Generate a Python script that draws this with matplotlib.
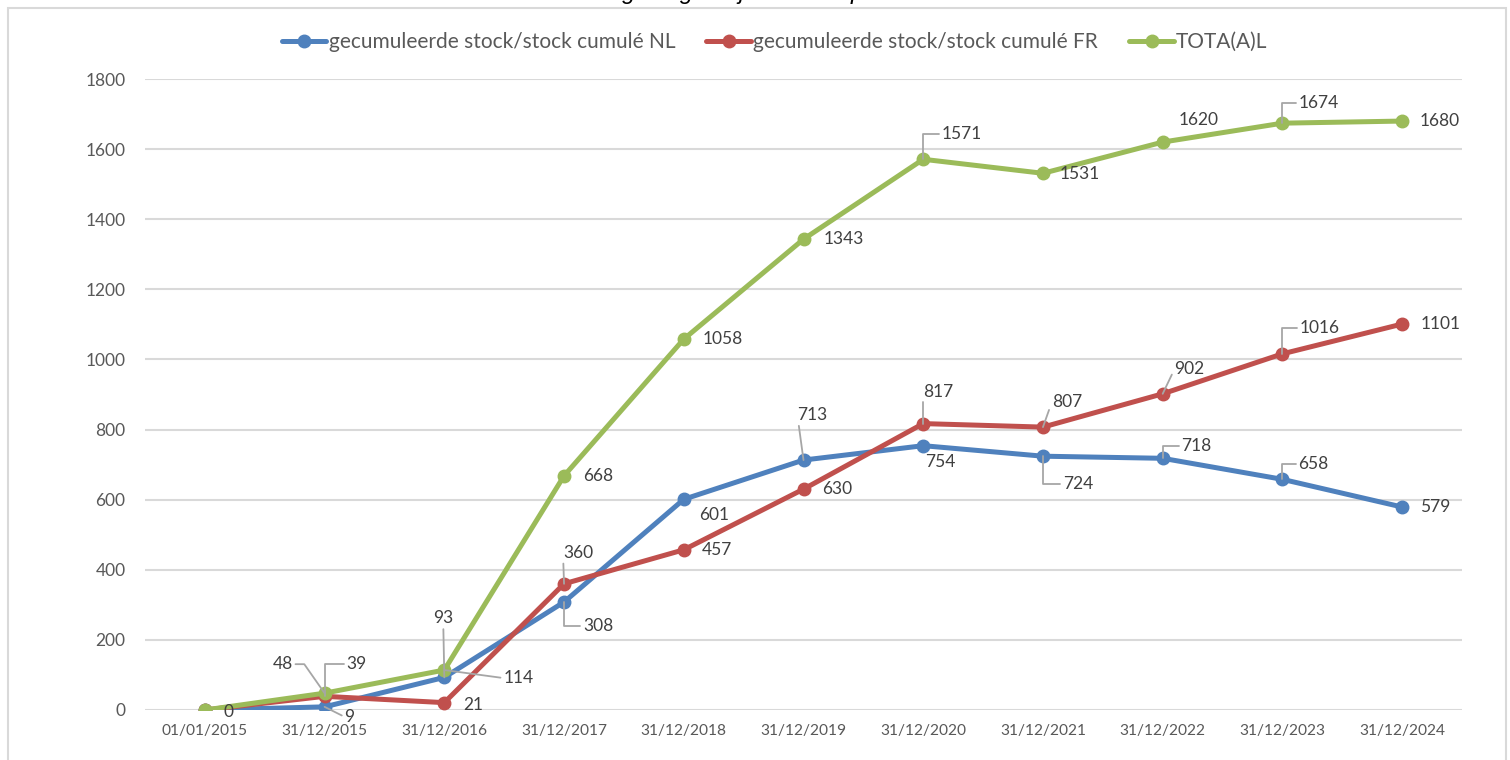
import numpy as np
import matplotlib.pyplot as plt
from matplotlib.patches import Rectangle

dates = ["01/01/2015", "31/12/2015", "31/12/2016", "31/12/2017", "31/12/2018",
         "31/12/2019", "31/12/2020", "31/12/2021", "31/12/2022", "31/12/2023",
         "31/12/2024"]
stock_nl = [0, 9, 93, 308, 601, 713, 754, 724, 718, 658, 579]
stock_fr = [0, 39, 21, 360, 457, 630, 817, 807, 902, 1016, 1101]
total = [0, 48, 114, 668, 1058, 1343, 1571, 1531, 1620, 1674, 1680]

names = ["gecumuleerde stock/stock cumulé NL", "gecumuleerde stock/stock cumulé FR", "TOTA(A)L"]
colors = ["#4f81bd", "#c0504d", "#9bbb59"]

# label offsets in pixels (dx, dy), None = no label
# leader: None, 's' straight, or a number = angle of the segment at the point
offs_nl = [(24, -2), (25, -10), (-1, 59), (34, -24), (30, -16), (9, 45),
           (17, -16), (35, -28), (34, 12), (31, 15), (33, 0)]
lead_nl = [None, 's', 's', 90, None, 's', None, 90, 90, 90, None]
offs_fr = [None, (32, 32), (29, -2), (14, 31), (33, 0), (34, 0),
           (15, 32), (24, 25), (27, 25), (37, 26), (38, 0)]
lead_fr = [None, 90, None, 's', None, None, 90, 's', 's', 90, None]
offs_tot = [None, (-42, 29), (74, -8), (34, 0), (39, 0), (40, 0),
            (39, 25), (37, -1), (36, 22), (36, 20), (38, 0)]
lead_tot = [None, 125, 's', None, None, None, 90, None, None, 90, None]

plt.rcParams['font.family'] = ['Lato', 'DejaVu Sans']

fig = plt.figure(figsize=(15.1, 7.6), dpi=100)
ax = fig.add_axes([145 / 1510, 1 - 710 / 760, (1462 - 145) / 1510, (710 - 79) / 760])

x = np.arange(len(dates))
series = [stock_nl, stock_fr, total]
offsets = [offs_nl, offs_fr, offs_tot]
leaders = [lead_nl, lead_fr, lead_tot]

for vals, c, n in zip(series, colors, names):
    ax.plot(x, vals, color=c, lw=3.6, marker='o', markersize=9, label=n,
            solid_capstyle='round', zorder=3)

for vals, offs, leads in zip(series, offsets, leaders):
    for i, v in enumerate(vals):
        if offs[i] is None:
            continue
        dx, dy = offs[i]
        kw = {}
        if leads[i] is not None:
            if abs(dx) < 5:
                rel = (0.5, 0.0) if dy > 0 else (0.5, 1.0)
            elif dx > 0:
                rel = (0.0, 0.5)
            else:
                rel = (1.0, 0.5)
            if leads[i] == 's':
                cs = "arc3"
            else:
                cs = "angle,angleA=0,angleB=%d,rad=0" % leads[i]
            kw['arrowprops'] = dict(arrowstyle='-', color='#a6a6a6', lw=1.3,
                                    shrinkA=0, shrinkB=0, relpos=rel,
                                    connectionstyle=cs)
        ax.annotate(str(v), (x[i], v), xytext=(dx, dy), textcoords='offset pixels',
                    ha='center', va='center', fontsize=12.5, color='#404040',
                    zorder=4, **kw)

ax.set_xlim(-0.5, len(dates) - 0.5)
ax.set_ylim(0, 1800)
ax.set_yticks(np.arange(0, 1801, 200))
ax.set_xticks(x)
ax.set_xticklabels(dates)
ax.tick_params(length=0, labelcolor='#595959')
ax.tick_params(axis='y', pad=14, labelsize=12.5)
ax.tick_params(axis='x', pad=10, labelsize=11.2)
ax.grid(axis='y', color='#d9d9d9', lw=1.5)
ax.set_axisbelow(True)
for s in ax.spines.values():
    s.set_visible(False)

fig.legend(loc='center', bbox_to_anchor=(0.513, 1 - 42 / 760), ncol=3,
           frameon=False, fontsize=15, labelcolor='#595959',
           handlelength=2.15, handletextpad=0.1, columnspacing=1.5)

fig.text(0.52, 1 + 1 / 760, "naargelang het jaar en de proceduretaal",
         ha='center', va='baseline', fontsize=17, style='italic',
         family='Liberation Sans', color='black')

fig.add_artist(Rectangle((8 / 1510, -0.02), (1506 - 8) / 1510, 1 - 8 / 760 + 0.02,
                         transform=fig.transFigure, fill=False,
                         edgecolor='#d9d9d9', lw=1.5))

fig.savefig("out.png", dpi=100)
